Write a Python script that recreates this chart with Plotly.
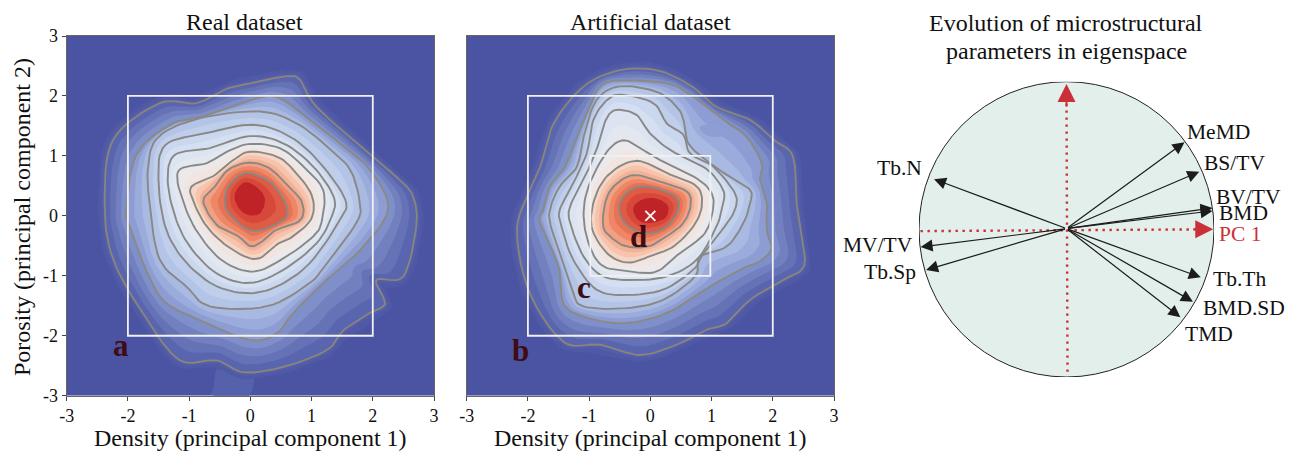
import numpy as np
import plotly.graph_objects as go

W, H = 1291, 451
TICKS = [-3, -2, -1, 0, 1, 2, 3]
TICK_TEXT = ["-3", "-2", "-1", "0", "1", "2", "3"]
FONT = "Liberation Serif"

# Density contour lines, in principal-component units (innermost first).
REAL_CORE = [(-0.09,0.56),(0.13,0.46),(0.24,0.27),(0.16,0.04),(-0.06,0.02),(-0.22,0.18),(-0.25,0.38)]
REAL_1 = [(-0.09,0.71),(0.27,0.60),(0.48,0.38),(0.60,0.13),(0.57,-0.04),(0.27,-0.21),(-0.01,-0.24),(-0.28,-0.04),(-0.41,0.18),(-0.36,0.49)]
REAL_2 = [(-0.01,0.89),(0.32,0.79),(0.59,0.52),(0.84,0.24),(0.82,-0.07),(0.43,-0.23),(0.27,-0.37),(0.02,-0.51),(-0.2,-0.34),(-0.55,-0.15),(-0.77,0.24),(-0.6,0.46),(-0.36,0.77)]
REAL_3 = [(-0.01,1.07),(0.43,0.99),(0.70,0.77),(1.0,0.35),(1.0,-0.04),(0.7,-0.34),(0.46,-0.46),(0.1,-0.72),(-0.33,-0.54),(-0.71,-0.18),(-0.93,0.24),(-0.96,0.49),(-0.61,0.66),(-0.28,0.93)]
REAL_4 = [(-0.01,1.2),(0.48,1.13),(0.87,0.82),(1.19,0.43),(1.17,-0.07),(1.03,-0.34),(0.54,-0.71),(0.05,-0.93),(-0.44,-0.76),(-0.82,-0.34),(-1.07,0.16),(-1.18,0.74),(-0.71,0.88),(-0.38,1.07)]
REAL_5 = [(-0.01,1.33),(0.54,1.21),(1.03,0.82),(1.36,0.32),(1.33,-0.01),(1.08,-0.46),(0.54,-0.9),(-0.01,-1.12),(-0.55,-0.96),(-0.99,-0.51),(-1.23,-0.01),(-1.35,0.6),(-1.23,1.02),(-0.66,1.13)]
REAL_6 = [(0.05,1.52),(0.65,1.32),(1.14,0.88),(1.55,0.27),(1.46,-0.07),(0.97,-0.79),(0.43,-1.18),(-0.06,-1.29),(-0.6,-1.15),(-1.09,-0.73),(-1.39,-0.18),(-1.5,0.6),(-1.39,1.18),(-0.71,1.38)]
REAL_7 = [(0.16,1.74),(0.76,1.54),(1.25,1.16),(1.63,0.77),(1.79,0.21),(1.73,-0.12),(1.25,-0.79),(0.97,-1.12),(0.27,-1.51),(-0.66,-1.51),(-1.04,-1.18),(-1.48,-0.73),(-1.64,0.16),(-1.67,0.82),(-1.5,1.32),(-0.82,1.63)]
REAL_8 = [(0.1,1.96),(0.48,1.96),(0.97,1.6),(1.46,1.21),(1.95,0.77),(2.25,0.13),(1.85,-0.51),(1.19,-1.12),(0.7,-1.62),(0.43,-1.96),(-0.01,-2.07),(-0.82,-1.73),(-1.48,-1.34),(-1.97,-0.18),(-2.02,0.16),(-1.86,1.02),(-1.31,1.52),(-0.77,1.66)]
REAL_9 = [(0.59,2.33),(0.81,2.27),(1.08,1.82),(1.95,1.03),(2.44,0.6),(2.66,0.32),(2.71,-0.18),(2.5,-1.01),(2.06,-1.07),(2.2,-1.46),(1.95,-1.62),(1.52,-1.91),(1.25,-2.24),(0.54,-2.52),(-0.11,-2.61),(-0.55,-2.41),(-1.15,-2.41),(-1.69,-1.73),(-2.24,-0.73),(-2.38,0.21),(-2.24,1.27),(-1.48,1.88),(-0.88,1.88),(-0.39,2.12),(0.1,2.23)]
REAL_TAIL = [(-0.6,-3.0),(-0.6,-2.85),(-0.5,-2.5),(0.0,-2.5),(-0.02,-3.0)]

ART_CORE = [(-0.28,0.13),(-0.14,0.27),(0.1,0.29),(0.29,0.16),(0.24,-0.04),(-0.01,-0.12),(-0.2,-0.07)]
ART_1 = [(-0.5,0.21),(-0.33,0.43),(-0.06,0.49),(0.32,0.38),(0.46,0.24),(0.43,0.04),(0.27,-0.18),(-0.01,-0.29),(-0.28,-0.23),(-0.47,-0.04)]
ART_2 = [(-0.77,-0.18),(-0.74,0.21),(-0.6,0.49),(-0.28,0.68),(0.16,0.57),(0.59,0.41),(0.66,0.18),(0.54,-0.12),(0.27,-0.34),(-0.03,-0.51),(-0.39,-0.51),(-0.63,-0.37)]
ART_3 = [(-0.96,-0.18),(-0.9,0.32),(-0.66,0.71),(-0.22,0.92),(0.27,0.71),(0.76,0.49),(0.84,0.16),(0.7,-0.18),(0.38,-0.51),(0.05,-0.65),(-0.36,-0.78),(-0.71,-0.62)]
ART_4 = [(-0.44,1.26),(-0.17,1.13),(0.16,0.93),(0.7,0.66),(0.97,0.43),(1.03,0.16),(0.89,-0.29),(0.48,-0.62),(0.1,-0.93),(-0.33,-0.93),(-0.77,-0.84),(-0.99,-0.51),(-1.09,-0.01),(-1.01,0.49),(-0.71,1.07)]
ART_5 = [(-0.5,1.77),(-0.22,1.68),(-0.01,1.38),(0.32,1.1),(0.65,0.93),(0.97,0.74),(1.19,0.43),(1.19,0.21),(1.08,-0.18),(0.76,-0.73),(0.27,-1.01),(-0.28,-1.07),(-0.77,-1.01),(-1.09,-0.68),(-1.31,-0.12),(-1.31,0.16),(-1.09,0.6),(-0.88,1.1),(-0.77,1.49),(-0.66,1.71)]
ART_6 = [(-0.47,2.02),(0.05,1.88),(0.27,1.54),(0.54,1.35),(0.65,1.04),(1.03,0.82),(1.38,0.38),(1.38,0.1),(1.19,-0.21),(0.87,-0.62),(0.7,-0.9),(0.21,-1.23),(-0.39,-1.32),(-0.88,-1.23),(-1.26,-0.73),(-1.45,-0.18),(-1.48,0.1),(-1.26,0.54),(-1.04,1.04),(-0.93,1.6),(-0.71,1.93)]
ART_7 = [(-0.5,2.16),(0.1,2.07),(0.43,1.82),(0.54,1.6),(0.62,1.21),(0.97,0.88),(1.33,0.63),(1.63,0.43),(1.63,0.21),(1.52,-0.12),(1.25,-0.51),(0.81,-0.68),(0.73,-1.01),(0.21,-1.4),(-0.39,-1.54),(-1.09,-1.51),(-1.28,-1.23),(-1.61,-0.23),(-1.64,0.1),(-1.48,0.49),(-1.2,0.82),(-1.09,1.32),(-0.88,1.93)]
ART_8 = [(-0.5,2.26),(0.27,2.21),(0.65,2.02),(1.19,1.6),(1.57,1.32),(1.82,0.88),(1.79,0.63),(1.9,0.21),(1.9,-0.23),(1.98,-0.54),(1.79,-0.76),(1.52,-0.87),(0.97,-1.18),(0.27,-1.62),(-0.44,-1.79),(-1.09,-1.68),(-1.42,-1.46),(-1.5,-0.84),(-1.8,-0.12),(-1.75,0.1),(-1.64,0.49),(-1.39,0.82),(-1.2,1.32),(-0.99,1.82),(-0.82,2.16)]
ART_9 = [(-0.5,2.43),(0.1,2.43),(0.65,2.18),(1.08,1.82),(1.63,1.6),(2.01,1.27),(2.33,0.99),(2.39,0.21),(2.52,-0.62),(2.47,-0.9),(2.17,-1.07),(1.63,-1.4),(1.25,-1.79),(0.92,-1.9),(0.43,-2.15),(-0.17,-2.32),(-0.82,-2.15),(-1.42,-2.1),(-1.97,-1.29),(-2.18,-0.29),(-2.02,0.32),(-1.8,0.82),(-1.58,1.54),(-1.09,2.16)]
ART_PATCH = [(0.81,1.49),(1.08,1.53),(1.3,1.4),(1.14,1.32),(0.92,1.34)]

# Eigenspace loadings.
LOADING_NAMES = ["MeMD", "BS/TV", "BV/TV", "BMD", "Tb.Th", "BMD.SD", "TMD", "Tb.N", "MV/TV", "Tb.Sp"]
LOADING_PC1 = [0.80, 0.90, 0.99, 0.99, 0.91, 0.857, 0.772, -0.898, -0.989, -0.952]
LOADING_PC2 = [0.59, 0.39, 0.145, 0.125, -0.325, -0.49, -0.595, 0.34, -0.12, -0.275]

BG = "#4b53a3"
LINE = "#888887"
# Shades for the bands between neighbouring contour lines, outermost gap first.
GAP_COLORS = [
    ["#5965ae", "#6572b6", "#7280bf", "#7f8fc9"],
    ["#8d9dd3", "#9babdb", "#a8b9e2"],
    ["#b4c4e7", "#bfceeb"],
    ["#cad7ee", "#d4dff1"],
    ["#dce4f1", "#e3e8f0"],
    ["#ebe9ec", "#f2e4de"],
    ["#f6d5c5", "#f6c3ac", "#f5b196"],
    ["#f39f81", "#ee8768", "#e87254"],
    ["#de5c45", "#d8483a"],
]
CORE_COLOR = "#c02327"


def closed_curve(points, steps=8):
    """Closed smooth curve through the read points (Catmull-Rom)."""
    p = np.array(points, dtype=float)
    n = len(p)
    t = np.linspace(0, 1, steps, endpoint=False)[:, None]
    out = []
    for i in range(n):
        a, b, c, d = p[(i - 1) % n], p[i], p[(i + 1) % n], p[(i + 2) % n]
        out.append(0.5 * (2 * b + (c - a) * t + (2 * a - 5 * b + 4 * c - d) * t ** 2
                          + (3 * b - a - 3 * c + d) * t ** 3))
    out = np.vstack(out)
    return np.vstack([out, out[:1]])


def radial(curve, center, angles):
    d = curve[:-1] - center
    th = np.arctan2(d[:, 1], d[:, 0])
    r = np.hypot(d[:, 0], d[:, 1])
    order = np.argsort(th)
    return np.interp(angles, th[order], r[order], period=2 * np.pi)


def add_panel(fig, rings, core, center, xa, ya, under, over):
    center = np.array(center)
    angles = np.linspace(-np.pi, np.pi, 240)
    curves = [closed_curve(r) for r in rings]      # outermost first
    common = dict(mode="lines", xaxis=xa, yaxis=ya, hoverinfo="skip", showlegend=False)
    for pts, col in under:
        c = closed_curve(pts)
        fig.add_trace(go.Scatter(x=c[:, 0], y=c[:, 1], fill="toself", fillcolor=col,
                                 line=dict(width=0), **common))
    # soft edge just outside the outermost line
    for w, col in ((14, "#4f59a6"), (7, "#535da9")):
        fig.add_trace(go.Scatter(x=curves[0][:, 0], y=curves[0][:, 1],
                                 line=dict(color=col, width=w), **common))
    radii = [radial(c, center, angles) for c in curves] + [radial(closed_curve(core), center, angles)]
    for g, cols in enumerate(GAP_COLORS):
        for j, col in enumerate(cols):
            t = j / len(cols)
            r = (1 - t) * radii[g] + t * radii[g + 1]
            fig.add_trace(go.Scatter(x=center[0] + r * np.cos(angles), y=center[1] + r * np.sin(angles),
                                     fill="toself", fillcolor=col, line=dict(width=0), **common))
    c = closed_curve(core)
    fig.add_trace(go.Scatter(x=c[:, 0], y=c[:, 1], fill="toself", fillcolor=CORE_COLOR,
                             line=dict(width=0), **common))
    for pts, col in over:
        c = closed_curve(pts)
        fig.add_trace(go.Scatter(x=c[:, 0], y=c[:, 1], fill="toself", fillcolor=col,
                                 line=dict(width=0), **common))
    for i, c in enumerate(curves):
        col = "#87857c" if i == 0 else ("#8a8a85" if i == 1 else LINE)
        fig.add_trace(go.Scatter(x=c[:, 0], y=c[:, 1], line=dict(color=col, width=1.9), **common))


def px(x):
    return x / W


def py(y):
    return 1 - y / H


def circle_px(x, y):
    """Paper position of a point given in the eigenspace circle's units."""
    return px(1066.5 + 146 * x), py(229.3 - 148 * y)


fig = go.Figure()

add_panel(fig, [REAL_9, REAL_8, REAL_7, REAL_6, REAL_5, REAL_4, REAL_3, REAL_2, REAL_1], REAL_CORE,
          (0.05, 0.25), "x", "y", [(REAL_TAIL, "#5661ac")], [])
add_panel(fig, [ART_9, ART_8, ART_7, ART_6, ART_5, ART_4, ART_3, ART_2, ART_1], ART_CORE,
          (-0.15, 0.15), "x2", "y2", [], [(ART_PATCH, "#8d9ed3")])

fig.add_trace(go.Scatter(x=[0], y=[0], mode="markers", xaxis="x2", yaxis="y2", hoverinfo="skip",
                         showlegend=False,
                         marker=dict(symbol="x-thin", size=10, line=dict(color="#f4f4f4", width=2))))

# red dotted principal axes
RED = "#cb2f38"
for xs, ys in (([-0.99, 0.93], [-0.012, 0.0]), ([0.0, 0.007], [0.9, -0.985])):
    fig.add_trace(go.Scatter(x=xs, y=ys, mode="lines", xaxis="x3", yaxis="y3",
                             hoverinfo="skip", showlegend=False,
                             line=dict(color=RED, width=2.4, dash="2.4px 4.6px")))

axis_common = dict(range=[-3, 3], tickvals=TICKS, ticktext=TICK_TEXT, ticks="outside", ticklen=4,
                   tickwidth=1, tickcolor="#444", showgrid=False, zeroline=False, showline=True,
                   linecolor="#666", linewidth=1, mirror=True, automargin=False,
                   tickfont=dict(family=FONT, size=18, color="#111"))
title_font = dict(family=FONT, size=24, color="#111")
fig.update_layout(
    width=W, height=H, margin=dict(l=0, r=0, t=0, b=0), autosize=False,
    paper_bgcolor="white", plot_bgcolor="rgba(0,0,0,0)", showlegend=False,
    xaxis=dict(domain=[px(66.7), px(434)], anchor="y", **axis_common),
    yaxis=dict(domain=[py(395.7), py(36)], anchor="x", **axis_common),
    xaxis2=dict(domain=[px(466.7), px(834)], anchor="y2", **axis_common),
    yaxis2=dict(domain=[py(395.7), py(36)], anchor="x2", showticklabels=False,
                **{**axis_common, "ticks": ""}),
    xaxis3=dict(domain=[px(919), px(1214)], anchor="y3", range=[-1, 1], visible=False, automargin=False),
    yaxis3=dict(domain=[py(377), py(81.7)], anchor="x3", range=[-1, 1], visible=False, automargin=False),
)

shapes = []
for xr, yr in (("x", "y"), ("x2", "y2")):
    shapes.append(dict(type="rect", xref=xr, yref=yr, x0=-3, x1=3, y0=-3, y1=3, layer="below",
                       line=dict(width=0), fillcolor=BG))
BOX = dict(color="#f1f1f4", width=1.8)
shapes.append(dict(type="rect", xref="x", yref="y", x0=-2, x1=2, y0=-2, y1=2, line=BOX))
shapes.append(dict(type="rect", xref="x2", yref="y2", x0=-2, x1=2, y0=-2, y1=2, line=BOX))
shapes.append(dict(type="rect", xref="x2", yref="y2", x0=-0.98, x1=0.98, y0=-1, y1=1, line=BOX))
shapes.append(dict(type="circle", xref="x3", yref="y3", x0=-1, x1=1, y0=-1, y1=1, layer="below",
                   line=dict(color="#222", width=1), fillcolor="#e2efea"))
fig.update_layout(shapes=shapes)

ann = []
for txt, x, y in (("Real dataset", 244, 22), ("Artificial dataset", 650, 22),
                  ("Evolution of microstructural", 1066, 23), ("parameters in eigenspace", 1066, 51),
                  ("Density (principal component 1)", 250, 438), ("Density (principal component 1)", 650, 438)):
    ann.append(dict(text=txt, xref="paper", yref="paper", x=px(x), y=py(y), showarrow=False,
                    xanchor="center", yanchor="middle", font=title_font))
ann.append(dict(text="Porosity (principal component 2)", xref="paper", yref="paper", x=px(22), y=py(217),
                showarrow=False, textangle=-90, xanchor="center", yanchor="middle", font=title_font))
LETTER = dict(family=FONT, size=31, color="#3f0c12")
for txt, xr, yr, x, y in (("<b>a</b>", "x", "y", -2.12, -2.17), ("<b>b</b>", "x2", "y2", -2.12, -2.25),
                          ("<b>c</b>", "x2", "y2", -1.09, -1.2), ("<b>d</b>", "x2", "y2", -0.2, -0.34)):
    ann.append(dict(text=txt, xref=xr, yref=yr, x=x, y=y, showarrow=False, font=LETTER,
                    xanchor="center", yanchor="middle"))
for pc1, pc2 in zip(LOADING_PC1, LOADING_PC2):
    ann.append(dict(x=pc1, y=pc2, ax=0.0, ay=0.005, xref="x3", yref="y3", axref="x3", ayref="y3", text="",
                    showarrow=True, arrowhead=2, arrowsize=2, arrowwidth=1.2, arrowcolor="#1c1c1c", standoff=0))
for x, y, ax, ay in ((0.995, 0.0, 0.85, 0.0), (0.0, 0.985, 0.0, 0.82)):
    ann.append(dict(x=x, y=y, ax=ax, ay=ay, xref="x3", yref="y3", axref="x3", ayref="y3", text="",
                    showarrow=True, arrowhead=2, arrowsize=2, arrowwidth=1.8, arrowcolor=RED, standoff=0))
LABEL_POS = {"MeMD": (0.81, 0.655, "left"), "BS/TV": (0.93, 0.447, "left"), "BV/TV": (1.011, 0.221, "left"),
             "BMD": (1.03, 0.113, "left"), "Tb.Th": (0.993, -0.339, "left"), "BMD.SD": (0.921, -0.535, "left"),
             "TMD": (0.80, -0.709, "left"), "Tb.N": (-0.977, 0.413, "right"), "MV/TV": (-1.038, -0.106, "right"),
             "Tb.Sp": (-1.02, -0.287, "right")}
for name in LOADING_NAMES:
    x, y, anchor = LABEL_POS[name]
    xp, yp = circle_px(x, y)
    ann.append(dict(text=name, x=xp, y=yp, xref="paper", yref="paper", showarrow=False, xanchor=anchor,
                    yanchor="middle", font=dict(family=FONT, size=21.5, color="#111")))
xp, yp = circle_px(1.03, -0.03)
ann.append(dict(text="PC 1", x=xp, y=yp, xref="paper", yref="paper", showarrow=False, xanchor="left",
                yanchor="middle", font=dict(family=FONT, size=21.5, color=RED)))
fig.update_layout(annotations=ann)

fig.write_html("out.html", config={"displayModeBar": False}, div_id="chart",
               default_width=W, default_height=H,
               post_script="document.body.style.margin='0';"
                           "document.documentElement.style.overflow='hidden';")
